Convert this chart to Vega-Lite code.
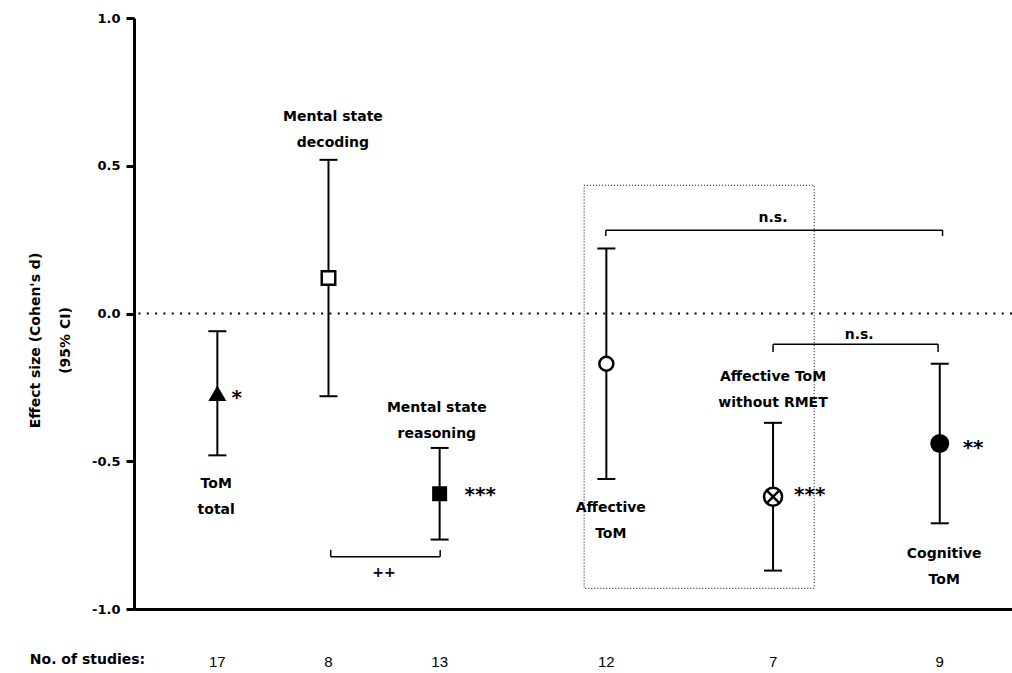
{
  "$schema": "https://vega.github.io/schema/vega-lite/v6.json",
  "width": 878,
  "height": 591,
  "autosize": {"type": "none"},
  "padding": {"left": 134, "top": 18, "right": 0, "bottom": 64},
  "background": "white",
  "config": {"view": {"stroke": null}, "font": "DejaVu Sans"},
  "datasets": {
    "effects": [
      {"name": "ToM total", "x": 1, "y": -0.27, "lo": -0.48, "hi": -0.06, "n": "17"},
      {"name": "Mental state decoding", "x": 3, "y": 0.12, "lo": -0.28, "hi": 0.52, "n": "8"},
      {"name": "Mental state reasoning", "x": 5, "y": -0.61, "lo": -0.765, "hi": -0.455, "n": "13"},
      {"name": "Affective ToM", "x": 8, "y": -0.17, "lo": -0.56, "hi": 0.22, "n": "12"},
      {"name": "Affective ToM without RMET", "x": 11, "y": -0.62, "lo": -0.87, "hi": -0.37, "n": "7"},
      {"name": "Cognitive ToM", "x": 14, "y": -0.44, "lo": -0.71, "hi": -0.17, "n": "9"}
    ],
    "zero": [{"y": 0}],
    "box": [
      {"x": 7.6, "x2": 11.74, "y": 0.434, "y2": -0.93}
    ],
    "brackets": [
      {"x": 3.04, "x2": 5.01, "y": -0.823, "y2": -0.823},
      {"x": 3.04, "x2": 3.04, "y": -0.823, "y2": -0.8},
      {"x": 5.01, "x2": 5.01, "y": -0.823, "y2": -0.8},
      {"x": 7.99, "x2": 14.05, "y": 0.282, "y2": 0.282},
      {"x": 7.99, "x2": 7.99, "y": 0.282, "y2": 0.262},
      {"x": 14.05, "x2": 14.05, "y": 0.282, "y2": 0.262},
      {"x": 11.0, "x2": 13.97, "y": -0.104, "y2": -0.104},
      {"x": 11.0, "x2": 11.0, "y": -0.104, "y2": -0.13},
      {"x": 13.97, "x2": 13.97, "y": -0.104, "y2": -0.13}
    ],
    "labels": [
      {"x": 0.98, "y": -0.592, "text": "ToM\ntotal"},
      {"x": 3.08, "y": 0.652, "text": "Mental state\ndecoding"},
      {"x": 4.95, "y": -0.335, "text": "Mental state\nreasoning"},
      {"x": 8.08, "y": -0.673, "text": "Affective\nToM"},
      {"x": 11.0, "y": -0.229, "text": "Affective ToM\nwithout RMET"},
      {"x": 14.08, "y": -0.826, "text": "Cognitive\nToM"}
    ],
    "stars": [
      {"x": 1.35, "y": -0.307, "text": "*"},
      {"x": 5.73, "y": -0.635, "text": "***"},
      {"x": 11.66, "y": -0.635, "text": "***"},
      {"x": 14.6, "y": -0.476, "text": "**"}
    ],
    "notes": [
      {"x": 11.0, "y": 0.308, "text": "n.s."},
      {"x": 12.55, "y": -0.087, "text": "n.s."},
      {"x": 4.0, "y": -0.892, "text": "++"},
      {"x": -1.337, "y": -1.187, "text": "No. of studies:"}
    ]
  },
  "layer": [
    {
      "data": {"name": "box"},
      "mark": {"type": "rect", "fillOpacity": 0, "stroke": "black", "strokeWidth": 1, "strokeDash": [1, 2]},
      "encoding": {
        "x": {"field": "x", "type": "quantitative", "scale": {"domain": [-0.5, 15.3], "nice": false, "zero": false},
          "axis": {"title": null, "labels": false, "ticks": false, "grid": false, "domainWidth": 3, "domainColor": "black"}},
        "x2": {"field": "x2"},
        "y": {"field": "y", "type": "quantitative", "scale": {"domain": [-1, 1], "nice": false, "zero": false},
          "axis": {
            "title": ["Effect size (Cohen's d)", "(95% CI)"],
            "values": [-1, -0.5, 0, 0.5, 1],
            "labelExpr": "replace(format(datum.value, '.1f'), '\u2212', '-')",
            "labelFont": "DejaVu Sans", "labelFontWeight": "bold", "labelFontSize": 13, "labelColor": "black",
            "labelPadding": 6, "tickSize": 8, "tickWidth": 3, "tickColor": "black",
            "domainWidth": 3, "domainColor": "black", "grid": false,
            "titleFont": "DejaVu Sans", "titleFontWeight": "bold", "titleFontSize": 14, "titleColor": "black",
            "titleLineHeight": 30, "titleX": -99, "titleY": 322, "titleAlign": "center", "titleBaseline": "middle"
          }},
        "y2": {"field": "y2"}
      }
    },
    {
      "data": {"name": "zero"},
      "mark": {"type": "rule", "strokeDash": [2, 6.3], "strokeWidth": 2, "color": "black"},
      "encoding": {"y": {"field": "y", "type": "quantitative"}}
    },
    {
      "data": {"name": "brackets"},
      "mark": {"type": "rule", "strokeWidth": 1.5, "color": "black"},
      "encoding": {
        "x": {"field": "x", "type": "quantitative"},
        "x2": {"field": "x2"},
        "y": {"field": "y", "type": "quantitative"},
        "y2": {"field": "y2"}
      }
    },
    {
      "data": {"name": "effects"},
      "mark": {"type": "rule", "strokeWidth": 2, "color": "black"},
      "encoding": {
        "x": {"field": "x", "type": "quantitative"},
        "y": {"field": "lo", "type": "quantitative"},
        "y2": {"field": "hi"}
      }
    },
    {
      "data": {"name": "effects"},
      "mark": {"type": "tick", "orient": "horizontal", "size": 18, "thickness": 2, "color": "black", "opacity": 1},
      "encoding": {
        "x": {"field": "x", "type": "quantitative"},
        "y": {"field": "lo", "type": "quantitative"}
      }
    },
    {
      "data": {"name": "effects"},
      "mark": {"type": "tick", "orient": "horizontal", "size": 18, "thickness": 2, "color": "black", "opacity": 1},
      "encoding": {
        "x": {"field": "x", "type": "quantitative"},
        "y": {"field": "hi", "type": "quantitative"}
      }
    },
    {
      "data": {"name": "effects"},
      "transform": [{"filter": "datum.name === 'ToM total'"}],
      "mark": {"type": "point", "shape": "triangle-up", "filled": true, "size": 324, "color": "black", "opacity": 1},
      "encoding": {"x": {"field": "x", "type": "quantitative"}, "y": {"field": "y", "type": "quantitative"}}
    },
    {
      "data": {"name": "effects"},
      "transform": [{"filter": "datum.name === 'Mental state decoding'"}],
      "mark": {"type": "point", "shape": "square", "filled": true, "fill": "white", "stroke": "black", "strokeWidth": 2.5, "size": 182, "opacity": 1},
      "encoding": {"x": {"field": "x", "type": "quantitative"}, "y": {"field": "y", "type": "quantitative"}}
    },
    {
      "data": {"name": "effects"},
      "transform": [{"filter": "datum.name === 'Mental state reasoning'"}],
      "mark": {"type": "point", "shape": "square", "filled": true, "size": 225, "color": "black", "opacity": 1},
      "encoding": {"x": {"field": "x", "type": "quantitative"}, "y": {"field": "y", "type": "quantitative"}}
    },
    {
      "data": {"name": "effects"},
      "transform": [{"filter": "datum.name === 'Affective ToM'"}],
      "mark": {"type": "point", "shape": "circle", "filled": true, "fill": "white", "stroke": "black", "strokeWidth": 2.5, "size": 196, "opacity": 1},
      "encoding": {"x": {"field": "x", "type": "quantitative"}, "y": {"field": "y", "type": "quantitative"}}
    },
    {
      "data": {"name": "effects"},
      "transform": [{"filter": "datum.name === 'Affective ToM without RMET'"}],
      "mark": {"type": "point", "shape": "circle", "filled": true, "fill": "white", "stroke": "black", "strokeWidth": 2.5, "size": 324, "opacity": 1},
      "encoding": {"x": {"field": "x", "type": "quantitative"}, "y": {"field": "y", "type": "quantitative"}}
    },
    {
      "data": {"name": "effects"},
      "transform": [{"filter": "datum.name === 'Affective ToM without RMET'"}],
      "mark": {"type": "point", "shape": "M-0.7,-0.7L0.7,0.7M-0.7,0.7L0.7,-0.7", "filled": false, "stroke": "black", "strokeWidth": 2.5, "size": 324, "opacity": 1},
      "encoding": {"x": {"field": "x", "type": "quantitative"}, "y": {"field": "y", "type": "quantitative"}}
    },
    {
      "data": {"name": "effects"},
      "transform": [{"filter": "datum.name === 'Cognitive ToM'"}],
      "mark": {"type": "point", "shape": "circle", "filled": true, "size": 361, "color": "black", "opacity": 1},
      "encoding": {"x": {"field": "x", "type": "quantitative"}, "y": {"field": "y", "type": "quantitative"}}
    },
    {
      "data": {"name": "labels"},
      "mark": {"type": "text", "font": "DejaVu Sans", "fontWeight": "bold", "fontSize": 14, "lineBreak": "\n", "lineHeight": 26, "align": "center", "baseline": "alphabetic", "color": "black"},
      "encoding": {
        "x": {"field": "x", "type": "quantitative"},
        "y": {"field": "y", "type": "quantitative"},
        "text": {"field": "text"}
      }
    },
    {
      "data": {"name": "stars"},
      "mark": {"type": "text", "font": "DejaVu Sans", "fontWeight": "bold", "fontSize": 20, "align": "center", "baseline": "alphabetic", "color": "black"},
      "encoding": {
        "x": {"field": "x", "type": "quantitative"},
        "y": {"field": "y", "type": "quantitative"},
        "text": {"field": "text"}
      }
    },
    {
      "data": {"name": "notes"},
      "mark": {"type": "text", "font": "DejaVu Sans", "fontWeight": "bold", "fontSize": 14, "align": "center", "baseline": "alphabetic", "color": "black"},
      "encoding": {
        "x": {"field": "x", "type": "quantitative"},
        "y": {"field": "y", "type": "quantitative"},
        "text": {"field": "text"}
      }
    },
    {
      "data": {"name": "effects"},
      "mark": {"type": "text", "font": "Liberation Sans Narrow, Liberation Sans", "fontSize": 15, "align": "center", "baseline": "alphabetic", "color": "black"},
      "encoding": {
        "x": {"field": "x", "type": "quantitative"},
        "y": {"datum": -1.195, "type": "quantitative"},
        "text": {"field": "n"}
      }
    }
  ]
}
